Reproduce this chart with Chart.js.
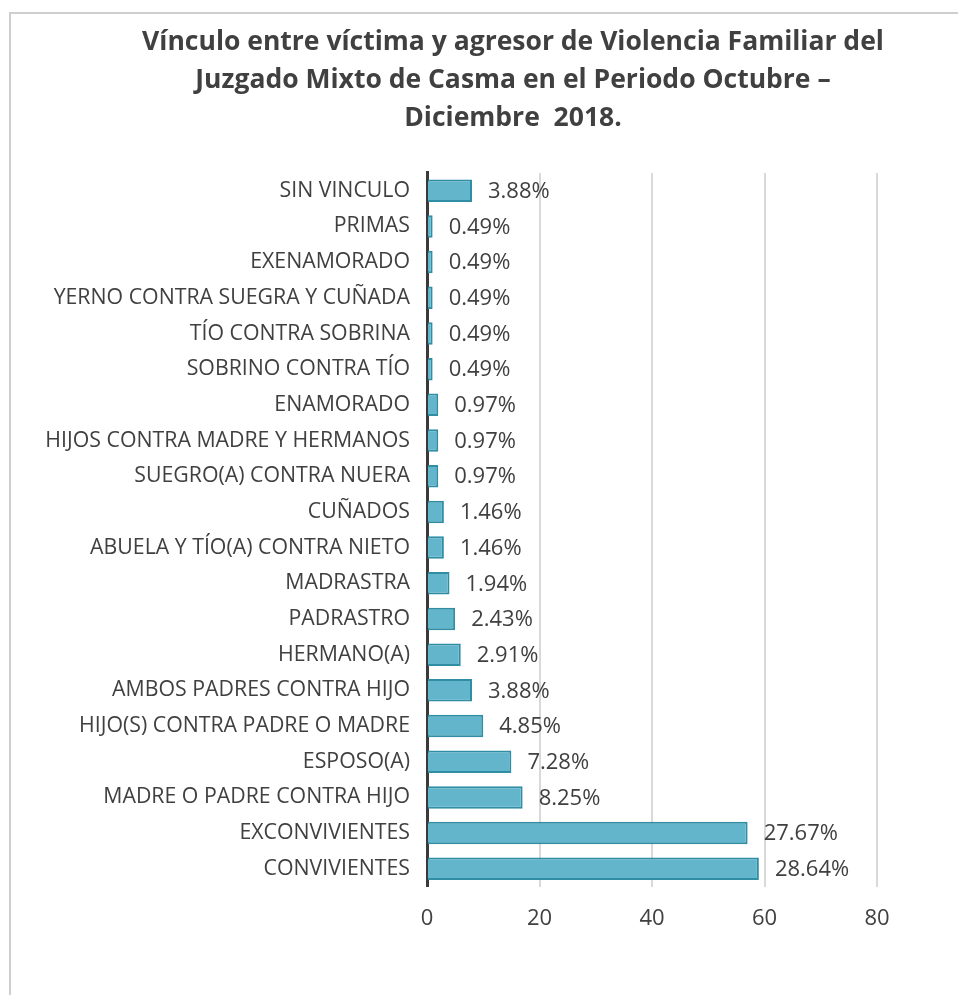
<!DOCTYPE html>
<html>
<head>
<meta charset="utf-8">
<script src="https://cdn.jsdelivr.net/npm/chart.js@4/dist/chart.umd.min.js"></script>
<style>
  html, body { margin: 0; padding: 0; background: #fff; overflow: hidden; width: 958px; height: 995px; }
  .frame { position: absolute; left: 9px; top: 12px; width: 1000px; height: 1000px; border-left: 2px solid #cfcfcf; border-top: 2px solid #cfcfcf; }
  .wrap { position: absolute; left: 0; top: 0; width: 1000px; height: 995px; }
</style>
</head>
<body>
<div class="frame"></div>
<div class="wrap"><canvas id="chart"></canvas></div>
<script>
const categories = [
  'SIN VINCULO', 'PRIMAS', 'EXENAMORADO', 'YERNO CONTRA SUEGRA Y CUÑADA', 'TÍO CONTRA SOBRINA',
  'SOBRINO CONTRA TÍO', 'ENAMORADO', 'HIJOS CONTRA MADRE Y HERMANOS', 'SUEGRO(A) CONTRA NUERA', 'CUÑADOS',
  'ABUELA Y TÍO(A) CONTRA NIETO', 'MADRASTRA', 'PADRASTRO', 'HERMANO(A)', 'AMBOS PADRES CONTRA HIJO',
  'HIJO(S) CONTRA PADRE O MADRE', 'ESPOSO(A)', 'MADRE O PADRE CONTRA HIJO', 'EXCONVIVIENTES', 'CONVIVIENTES'
];
const casos = [8, 1, 1, 1, 1, 1, 2, 2, 2, 3, 3, 4, 5, 6, 8, 10, 15, 17, 57, 59];
const porcentajes = [
  '3.88%', '0.49%', '0.49%', '0.49%', '0.49%', '0.49%', '0.97%', '0.97%', '0.97%', '1.46%',
  '1.46%', '1.94%', '2.43%', '2.91%', '3.88%', '4.85%', '7.28%', '8.25%', '27.67%', '28.64%'
];
const xTicks = [0, 20, 40, 60, 80];
const titulo = [
  'Vínculo entre víctima y agresor de Violencia Familiar del',
  'Juzgado Mixto de Casma en el Periodo Octubre –',
  'Diciembre  2018.'
];

const textColor = '#404040';

// etiquetas de porcentaje al final de cada barra
const pctLabels = {
  id: 'pctLabels',
  afterDatasetsDraw(chart) {
    const ctx = chart.ctx;
    const meta = chart.getDatasetMeta(0);
    ctx.save();
    ctx.font = '22px "Open Sans"';
    ctx.fillStyle = textColor;
    ctx.textBaseline = 'middle';
    ctx.textAlign = 'left';
    meta.data.forEach((bar, i) => {
      ctx.fillText(porcentajes[i], bar.x + 16, bar.y + 1);
    });
    ctx.restore();
  }
};

new Chart(document.getElementById('chart'), {
  type: 'bar',
  data: {
    labels: categories,
    datasets: [{
      data: casos,
      backgroundColor: '#63b5cc',
      borderColor: '#2f8ea3',
      borderWidth: 2,
      borderSkipped: 'left',
      barPercentage: 0.63,
      categoryPercentage: 1
    }]
  },
  options: {
    indexAxis: 'y',
    responsive: true,
    maintainAspectRatio: false,
    animation: false,
    layout: { padding: { left: 30, right: 4, top: 0, bottom: 44 } },
    plugins: {
      legend: { display: false },
      tooltip: { enabled: false },
      title: {
        display: true,
        text: titulo,
        color: textColor,
        font: { family: 'Open Sans', size: 26.5, weight: 'bold', lineHeight: 1.42 },
        padding: { top: 24, bottom: 36 }
      }
    },
    scales: {
      x: {
        min: 0,
        max: 80,
        afterBuildTicks(scale) { scale.ticks = xTicks.map((v) => ({ value: v })); },
        grid: { color: '#d9d9d9', lineWidth: 2, drawTicks: false },
        border: { display: false },
        ticks: { color: textColor, font: { family: 'Open Sans', size: 22 }, padding: 19 }
      },
      y: {
        afterFit(scale) { scale.width = 397; },
        grid: { display: false },
        border: { color: '#3a3a3a', width: 3 },
        ticks: { color: textColor, font: { family: 'Open Sans', size: 21.3 }, padding: 9, autoSkip: false }
      },
      // espacio vacío a la derecha para centrar el título como en el original
      margen: {
        type: 'linear',
        axis: 'y',
        position: 'right',
        grid: { display: false },
        border: { display: false },
        ticks: { display: false },
        afterFit(scale) { scale.width = 119; }
      }
    }
  },
  plugins: [pctLabels]
});
</script>
</body>
</html>
